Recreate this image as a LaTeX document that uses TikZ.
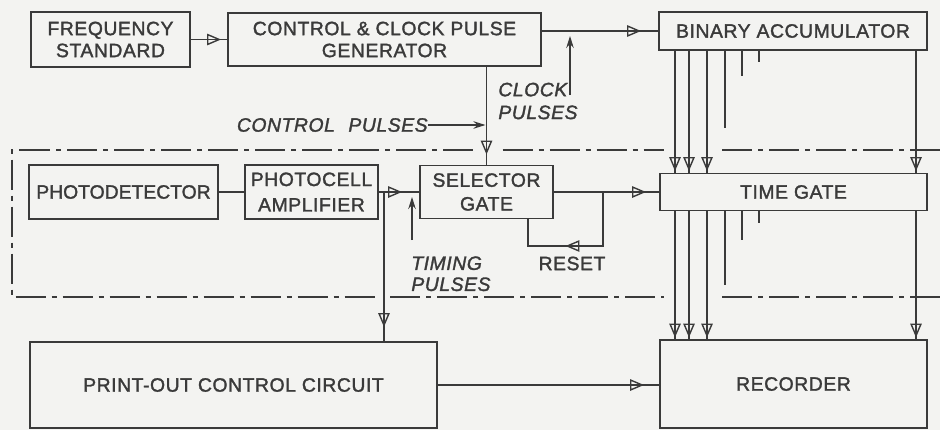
\documentclass[tikz,border=0pt]{standalone}
\usepackage{fontspec}
\setmainfont{Liberation Sans}
\newfontfamily\inkfont{Liberation Sans}[FakeBold=1.6, LetterSpace=3]
\newfontfamily\inkfonttight{Liberation Sans}[FakeBold=1.6]
\usepackage{xcolor}
\usepackage{tikz}
\usetikzlibrary{arrows.meta, positioning, calc, decorations.markings}
\definecolor{inkgrey}{HTML}{3A3A3A}
\definecolor{papergrey}{HTML}{F3F3F1}

\tikzset{
  blockbox/.style={draw=inkgrey, line width=1.1pt, text=inkgrey, align=center, inner sep=1pt,
    font=\inkfont\fontsize{11}{12.5}\selectfont},
  wire/.style={draw=inkgrey, line width=0.9pt},
  bus/.style={draw=inkgrey, line width=0.7pt},
  tipat/.style={postaction={decorate}, decoration={markings,
    mark=at position #1 with {\arrow{Triangle[open, length=2.8mm, width=2.3mm, line width=0.8pt]}}}},
  lblarrow/.style={draw=inkgrey, line width=0.6pt, -{Stealth[length=2.4mm, width=1.5mm]}},
  pulselabel/.style={text=inkgrey, inner sep=0pt, align=left, font=\inkfont\fontsize{11}{13}\selectfont\itshape},
  framedash/.style={draw=inkgrey, line width=0.9pt, dash pattern=on 0.6cm off 0.12cm on 0.1cm off 0.12cm}
}

\begin{document}
\begin{tikzpicture}
    \fill[papergrey] (0, 0) rectangle (18.8, -8.6);
    \useasboundingbox (0, 0) rectangle (18.8, -8.6);

    % Blocks
    \node[blockbox, minimum width=3.18cm, minimum height=1.1cm] (freq) at (2.21, -0.79) {FREQUENCY\\STANDARD};
    \node[blockbox, minimum width=6.26cm, minimum height=1.06cm] (ctrl) at (7.69, -0.79) {CONTROL \& CLOCK PULSE\\GENERATOR};
    \node[blockbox, minimum width=5.36cm, minimum height=0.76cm] (binacc) at (15.86, -0.62) {BINARY ACCUMULATOR};

    \node[blockbox, minimum width=3.78cm, minimum height=1.08cm, font=\inkfonttight\fontsize{11}{12.5}\selectfont] (photodet) at (2.47, -3.84) {PHOTODETECTOR};
    \node[blockbox, minimum width=2.66cm, minimum height=1.08cm] (amp) at (6.23, -3.84) {PHOTOCELL\\[2pt]AMPLIFIER};
    \node[blockbox, minimum width=2.66cm, minimum height=1.06cm] (sel) at (9.73, -3.84) {SELECTOR\\[1pt]GATE};
    \node[blockbox, minimum width=5.34cm, minimum height=0.74cm] (tgate) at (15.87, -3.84) {TIME GATE};

    \node[blockbox, minimum width=8.14cm, minimum height=1.72cm] (pout) at (4.67, -7.7) {PRINT-OUT CONTROL CIRCUIT};
    \node[blockbox, minimum width=5.34cm, minimum height=1.76cm] (rec) at (15.87, -7.68) {RECORDER};

    % Labels
    \node[pulselabel, anchor=west] (clocklbl) at (9.96, -2.02) {CLOCK\\PULSES};
    \node[pulselabel, anchor=east] (ctrllbl) at (8.56, -2.5) {CONTROL\hspace{0.7em}PULSES};
    \node[pulselabel, anchor=north west, font=\inkfont\fontsize{11}{12}\selectfont\itshape] (timelbl) at (8.22, -5.12) {TIMING\\PULSES};
    \node[text=inkgrey, font=\inkfont\fontsize{11}{12}\selectfont] (resetlbl) at (11.44, -5.27) {RESET};

    \coordinate (ampout) at ($(amp.east)+(0.1, 0)$);
    \coordinate (resetjoin) at ($(sel.east)+(0.98, 0)$);
    \coordinate (clockin) at (11.4, -1.9);
    \coordinate (clocktip) at (11.4, -0.72);
    \coordinate (timingin) at (8.24, -4.8);
    \coordinate (timingtip) at (8.24, -3.94);

    % Main paths
    \draw[wire, tipat=-0.12cm] (freq.east) -- (ctrl.west);
    \draw[wire, tipat=-0.34cm] (binacc.west -| ctrl.east) -- (binacc.west);
    \draw[wire, tipat=-0.2cm] (sel.north |- ctrl.south) -- (sel.north);
    \draw[wire] (photodet.east) -- (amp.west);
    \draw[wire, tipat=-0.34cm] (amp.east) -- (sel.west);
    \draw[wire, tipat=-0.28cm] (ampout) -- (ampout |- pout.north);
    \draw[wire, tipat=-0.26cm] (sel.east) -- (tgate.west);
    \draw[wire, tipat=-1.28cm] (resetjoin) -- ++(0, -1.08) -| ($(sel.south)+(0.83, 0)$);
    \draw[wire, tipat=-0.3cm] (pout.east) -- (pout.east -| rec.west);

    % Pulse inputs
    \draw[lblarrow] (clockin) -- (clocktip);
    \draw[lblarrow, shorten >=0.6pt] (ctrllbl.east) -- (ctrllbl.east -| sel.north);
    \draw[lblarrow] (timingin) -- (timingtip);

    % Bus lines
    \foreach \bx in {13.5, 13.78, 14.14, 18.32} {
        \coordinate (busx) at (\bx, 0);
        \draw[bus, tipat=-0.03cm] (binacc.south -| busx) -- (tgate.north -| busx);
        \draw[bus, tipat=-0.03cm] (tgate.south -| busx) -- (rec.north -| busx);
    }
    \foreach \bx/\upend/\lowend in {14.5/-2.56/-5.7, 14.84/-1.52/-4.8, 15.18/-1.24/-4.46} {
        \coordinate (busx) at (\bx, 0);
        \draw[bus] (binacc.south -| busx) -- (\bx, \upend);
        \draw[bus] (tgate.south -| busx) -- (\bx, \lowend);
    }

    % Dash-dot frame
    \draw[framedash] (9.45, -3.0) -- (0.24, -3.0) -- (0.24, -5.94) -- (7.54, -5.94);
    \draw[framedash] (10.05, -3.0) -- (13.28, -3.0);
    \draw[framedash] (14.44, -3.0) -- (18.8, -3.0);
    \draw[framedash] (7.8, -5.94) -- (13.28, -5.94);
    \draw[framedash] (14.44, -5.94) -- (18.8, -5.94);
\end{tikzpicture}
\end{document}
